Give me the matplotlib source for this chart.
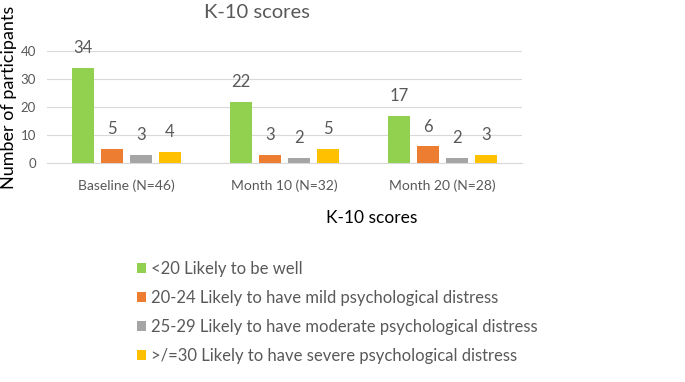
import matplotlib
matplotlib.use("Agg")
import matplotlib.pyplot as plt
import numpy as np

groups = ["Baseline (N=46)", "Month 10 (N=32)", "Month 20 (N=28)"]
series = ["<20 Likely to be well",
          "20-24 Likely to have mild psychological distress",
          "25-29 Likely to have moderate psychological distress",
          ">/=30 Likely to have severe psychological distress"]
well = [34, 22, 17]
mild = [5, 3, 6]
moderate = [3, 2, 2]
severe = [4, 5, 3]
colors = ["#92D050", "#ED7D31", "#A5A5A5", "#FFC000"]

plt.rcParams['font.family'] = ['Lato', 'DejaVu Sans']
grey = '#595959'

fig = plt.figure(figsize=(6.85, 3.82), dpi=100)
ax = fig.add_axes([0.0686, 0.573, 0.6934, 0.293])

x = np.arange(len(groups))
width = 0.14
step = 0.183
handles = []
for i, (vals, c) in enumerate(zip([well, mild, moderate, severe], colors)):
    pos = x + (i - 1.5) * step
    b = ax.bar(pos, vals, width, color=c, label=series[i], zorder=3)
    handles.append(b)
    for p, v in zip(pos, vals):
        ax.text(p, v + 4.2, str(v), ha='center', va='bottom', fontsize=12, color=grey)

ax.set_xlim(-0.5, 2.5)
ax.set_ylim(0, 40)
ax.set_yticks([0, 10, 20, 30, 40])
ax.set_xticks(x)
ax.set_xticklabels(groups)
ax.tick_params(axis='both', length=0, labelsize=9.5, colors=grey)
ax.tick_params(axis='x', pad=12, labelsize=10)
ax.tick_params(axis='y', pad=8)
ax.grid(axis='y', color='#D9D9D9', linewidth=0.8, zorder=0)
for s in ax.spines.values():
    s.set_visible(False)
ax.spines['bottom'].set_visible(True)
ax.spines['bottom'].set_color('#D9D9D9')

fig.text(0.375, 0.968, "K-10 scores", ha='center', va='center', fontsize=14.5, color=grey)
fig.text(0.002, 0.744, "Number of participants", rotation=90, ha='left', va='center',
         fontsize=13, color='black')
fig.text(0.543, 0.43, "K-10 scores", ha='center', va='center', fontsize=12.5, color='black')

fig.legend(handles=handles, labels=series, loc='upper left', bbox_to_anchor=(0.2, 0.318),
           frameon=False, fontsize=12, labelcolor=grey, handlelength=0.55, handleheight=0.55,
           handletextpad=0.3, labelspacing=0.78, borderaxespad=0, borderpad=0)

fig.savefig('out.png', dpi=100)
